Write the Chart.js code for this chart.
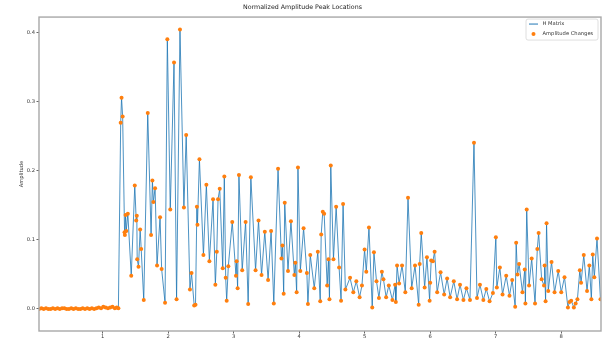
<!DOCTYPE html>
<html>
<head>
<meta charset="utf-8">
<title>Normalized Amplitude Peak Locations</title>
<script src="https://cdn.jsdelivr.net/npm/chart.js@4"></script>
<style>
    html, body { margin: 0; padding: 0; background: #fff; }
    #wrap { width: 605px; height: 340px; }
</style>
</head>
<body>
<div id="wrap"><canvas id="peakChart" width="605" height="340"></canvas></div>
<script>
const TITLE = 'Normalized Amplitude Peak Locations';
const SERIES_LINE = 'H Matrix';
const SERIES_MARKS = 'Amplitude Changes';
const Y_LABEL = 'Amplitude';

// quiet part before the signal starts
const QUIET_T = [0.030, 0.065, 0.100, 0.135, 0.170, 0.205, 0.240, 0.275, 0.310, 0.345, 0.380, 0.415,
    0.450, 0.485, 0.520, 0.555, 0.590, 0.625, 0.660, 0.695, 0.730, 0.765, 0.800, 0.835,
    0.870, 0.905, 0.940, 0.975, 1.010, 1.045, 1.080, 1.115, 1.150, 1.185, 1.215, 1.240];
const QUIET_A = [0.000, 0.001, 0.000, 0.001, 0.000, 0.000, 0.001, 0.000, 0.001, 0.000, 0.001, 0.001,
    0.000, 0.000, 0.001, 0.000, 0.001, 0.000, 0.000, 0.001, 0.000, 0.001, 0.000, 0.001,
    0.000, 0.001, 0.002, 0.001, 0.003, 0.002, 0.001, 0.002, 0.003, 0.001, 0.002, 0.001];

// active part, peaks and troughs
const ACTIVE_T = [1.275, 1.288, 1.305, 1.334, 1.339, 1.349, 1.360, 1.384, 1.436, 1.490, 1.512, 1.521,
    1.527, 1.547, 1.572, 1.588, 1.627, 1.688, 1.739, 1.759, 1.774, 1.800, 1.830, 1.876,
    1.900, 1.952, 1.987, 2.032, 2.089, 2.128, 2.180, 2.240, 2.275, 2.332, 2.356, 2.397,
    2.417, 2.438, 2.447, 2.477, 2.538, 2.583, 2.629, 2.685, 2.720, 2.742, 2.761, 2.787,
    2.833, 2.857, 2.878, 2.893, 2.918, 2.978, 3.035, 3.045, 3.060, 3.080, 3.130, 3.182,
    3.221, 3.262, 3.334, 3.379, 3.425, 3.475, 3.525, 3.571, 3.612, 3.677, 3.729, 3.744,
    3.763, 3.779, 3.829, 3.874, 3.926, 3.941, 3.961, 3.981, 4.017, 4.067, 4.117, 4.133,
    4.169, 4.230, 4.284, 4.321, 4.336, 4.360, 4.381, 4.427, 4.447, 4.462, 4.482, 4.523,
    4.564, 4.609, 4.639, 4.670, 4.705, 4.776, 4.826, 4.872, 4.922, 4.958, 4.998, 5.024,
    5.065, 5.115, 5.141, 5.180, 5.217, 5.262, 5.286, 5.327, 5.368, 5.423, 5.464, 5.475,
    5.494, 5.525, 5.570, 5.620, 5.661, 5.717, 5.768, 5.824, 5.839, 5.863, 5.915, 5.950,
    5.991, 6.000, 6.015, 6.041, 6.067, 6.106, 6.158, 6.213, 6.258, 6.304, 6.360, 6.410,
    6.455, 6.507, 6.553, 6.607, 6.668, 6.714, 6.759, 6.811, 6.856, 6.906, 6.957, 7.002,
    7.017, 7.063, 7.104, 7.160, 7.210, 7.251, 7.297, 7.312, 7.332, 7.357, 7.408, 7.443,
    7.453, 7.473, 7.509, 7.549, 7.600, 7.635, 7.655, 7.701, 7.737, 7.746, 7.761, 7.776,
    7.802, 7.852, 7.898, 7.954, 8.000, 8.050, 8.102, 8.126, 8.152, 8.193, 8.220, 8.247,
    8.284, 8.303, 8.344, 8.394, 8.429, 8.460, 8.481, 8.505, 8.546, 8.599];
const ACTIVE_A = [0.270, 0.306, 0.279, 0.111, 0.107, 0.136, 0.113, 0.138, 0.048, 0.179, 0.128, 0.135,
    0.072, 0.061, 0.115, 0.087, 0.013, 0.284, 0.107, 0.186, 0.155, 0.175, 0.063, 0.133,
    0.058, 0.009, 0.391, 0.144, 0.357, 0.014, 0.405, 0.147, 0.252, 0.028, 0.052, 0.005,
    0.006, 0.148, 0.122, 0.217, 0.078, 0.180, 0.069, 0.159, 0.035, 0.083, 0.159, 0.174,
    0.059, 0.192, 0.045, 0.012, 0.062, 0.126, 0.048, 0.069, 0.030, 0.194, 0.056, 0.126,
    0.007, 0.191, 0.056, 0.128, 0.049, 0.112, 0.042, 0.113, 0.008, 0.203, 0.073, 0.092,
    0.022, 0.154, 0.055, 0.127, 0.049, 0.067, 0.024, 0.205, 0.055, 0.117, 0.052, 0.007,
    0.078, 0.030, 0.083, 0.011, 0.108, 0.141, 0.138, 0.034, 0.072, 0.014, 0.208, 0.072,
    0.148, 0.060, 0.012, 0.152, 0.028, 0.045, 0.024, 0.040, 0.017, 0.034, 0.086, 0.054,
    0.118, 0.002, 0.082, 0.040, 0.016, 0.054, 0.043, 0.017, 0.034, 0.013, 0.035, 0.010,
    0.063, 0.037, 0.063, 0.024, 0.161, 0.030, 0.063, 0.006, 0.065, 0.110, 0.031, 0.075,
    0.012, 0.038, 0.070, 0.069, 0.083, 0.024, 0.053, 0.021, 0.044, 0.017, 0.040, 0.014,
    0.035, 0.013, 0.030, 0.013, 0.241, 0.016, 0.035, 0.013, 0.029, 0.011, 0.023, 0.104,
    0.031, 0.060, 0.021, 0.048, 0.019, 0.042, 0.003, 0.096, 0.050, 0.065, 0.024, 0.057,
    0.008, 0.144, 0.034, 0.073, 0.008, 0.087, 0.110, 0.043, 0.034, 0.063, 0.011, 0.124,
    0.026, 0.068, 0.024, 0.055, 0.024, 0.046, 0.002, 0.010, 0.012, 0.002, 0.008, 0.014,
    0.056, 0.038, 0.078, 0.026, 0.063, 0.014, 0.079, 0.046, 0.102, 0.014];

const X_TICKS = [1, 2, 3, 4, 5, 6, 7, 8];
const Y_TICKS = [0.0, 0.1, 0.2, 0.3, 0.4];
const X_RANGE = [0.028, 8.607];
const Y_RANGE = [-0.032, 0.423];

const BLUE = '#1f77b4';
const ORANGE = '#ff7f0e';
const FONT = 'DejaVu Sans';

const points = QUIET_T.concat(ACTIVE_T).map((t, i) => ({ x: t, y: QUIET_A.concat(ACTIVE_A)[i] }));

// matplotlib-like frame around the axes
const framePlugin = {
    id: 'frame',
    afterDraw(chart) {
        const { ctx, chartArea: a } = chart;
        ctx.save();
        ctx.strokeStyle = '#a8a8a8';
        ctx.lineWidth = 1.4;
        ctx.strokeRect(a.left, a.top, a.right - a.left, a.bottom - a.top);
        ctx.restore();
    }
};

// legend box in the upper right corner of the plot
const cornerLegend = {
    id: 'cornerLegend',
    afterDraw(chart) {
        const { ctx, chartArea: a } = chart;
        const w = 72, h = 21;
        const x = a.right - 3 - w, y = a.top + 2;
        ctx.save();
        ctx.fillStyle = 'rgba(255,255,255,0.85)';
        ctx.strokeStyle = '#d6d6d6';
        ctx.lineWidth = 0.8;
        ctx.beginPath();
        ctx.roundRect(x, y, w, h, 2);
        ctx.fill();
        ctx.stroke();

        const rows = [y + 5, y + 15];
        ctx.strokeStyle = BLUE;
        ctx.lineWidth = 1;
        ctx.beginPath();
        ctx.moveTo(x + 3, rows[0]);
        ctx.lineTo(x + 12, rows[0]);
        ctx.stroke();
        ctx.fillStyle = ORANGE;
        ctx.beginPath();
        ctx.arc(x + 7.5, rows[1], 2, 0, Math.PI * 2);
        ctx.fill();

        ctx.fillStyle = '#333';
        ctx.font = `5.2px "${FONT}"`;
        ctx.textBaseline = 'middle';
        ctx.fillText(SERIES_LINE, x + 16.5, rows[0]);
        ctx.fillText(SERIES_MARKS, x + 16.5, rows[1]);
        ctx.restore();
    }
};

new Chart(document.getElementById('peakChart'), {
    type: 'line',
    data: {
        datasets: [
            {
                label: SERIES_LINE,
                data: points,
                borderColor: 'rgba(31,119,180,0.8)',
                borderWidth: 1,
                pointRadius: 0,
                tension: 0,
                order: 1
            },
            {
                type: 'scatter',
                label: SERIES_MARKS,
                data: points,
                backgroundColor: ORANGE,
                borderWidth: 0,
                pointRadius: 2,
                order: 0
            }
        ]
    },
    options: {
        responsive: false,
        devicePixelRatio: 1,
        animation: false,
        layout: { padding: { left: 0, right: 0, top: 0, bottom: 0 } },
        plugins: {
            legend: { display: false },
            tooltip: { enabled: false },
            title: {
                display: true,
                text: TITLE,
                color: '#222',
                font: { family: FONT, size: 6.3, weight: 'normal' },
                padding: { top: 4, bottom: 5.5 }
            }
        },
        scales: {
            x: {
                type: 'linear',
                min: X_RANGE[0],
                max: X_RANGE[1],
                afterBuildTicks: s => { s.ticks = X_TICKS.map(v => ({ value: v })); },
                afterFit: s => { s.height = 9; s.paddingLeft = 0; s.paddingRight = 0; },
                grid: { drawOnChartArea: false, drawTicks: true, tickLength: 2.5, color: '#666' },
                border: { display: false },
                ticks: { color: '#333', padding: 0.5, maxRotation: 0, font: { family: FONT, size: 5.2 }, callback: v => String(v) }
            },
            y: {
                type: 'linear',
                min: Y_RANGE[0],
                max: Y_RANGE[1],
                afterBuildTicks: s => { s.ticks = Y_TICKS.map(v => ({ value: v })); },
                afterFit: s => { s.width = 39; s.paddingTop = 0; s.paddingBottom = 0; },
                grid: { drawOnChartArea: false, drawTicks: true, tickLength: 2.5, color: '#666' },
                border: { display: false },
                ticks: { color: '#333', padding: 1.5, font: { family: FONT, size: 5.2 }, callback: v => v.toFixed(1) },
                title: {
                    display: true,
                    text: Y_LABEL,
                    color: '#333',
                    font: { family: FONT, size: 5.2 },
                    padding: { top: 19, bottom: 0 }
                }
            }
        }
    },
    plugins: [framePlugin, cornerLegend]
});
</script>
</body>
</html>
